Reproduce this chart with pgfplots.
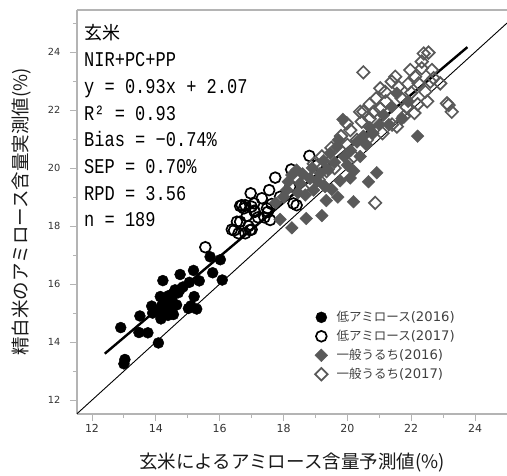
\documentclass[border=0pt]{standalone}
\usepackage{fontspec}
\setmainfont{DejaVu Sans}
\newfontfamily\jp{Noto Sans CJK JP}
\newfontfamily\statfont[FakeStretch=0.81]{Liberation Mono}
\usepackage{pgfplots}
\pgfplotsset{compat=1.18}
\definecolor{dgray}{HTML}{595959}
\definecolor{axgray}{HTML}{B4B4B4}
\newcommand{\yr}[1]{{\rmfamily\fontsize{13.2}{15}\selectfont(#1)}}

\begin{document}
\begin{tikzpicture}
\begin{axis}[
  at={(0,0)}, anchor=south west,
  scale only axis,
  width=430pt, height=404pt,
  xmin=11.53, xmax=25.0,
  ymin=11.52, ymax=25.45,
  axis x line*=box, axis y line*=left,
  xtick pos=bottom, ytick pos=left,
  xtick={12,14,...,24}, ytick={12,14,...,24},
  minor xtick={13,15,...,23}, minor ytick={13,15,...,25},
  tick align=outside,
  major tick length=7pt, minor tick length=4pt,
  axis line style={axgray, line width=1.2pt},
  every tick/.style={axgray, line width=1pt},
  /pgf/number format/assume math mode=true,
  xticklabel style={font=\fontsize{11}{12}\selectfont, text=black!80},
  yticklabel style={font=\fontsize{9.8}{11}\selectfont, text=black!80, xshift=-6pt},
  xlabel={玄米によるアミロース含量予測値(\%)},
  ylabel={精白米のアミロース含量実測値(\%)},
  label style={font=\jp\fontsize{18.5}{20}\selectfont, text=black!90},
  xlabel style={at={(axis description cs:0.5,-0.119)}, anchor=center},
  ylabel style={at={(axis description cs:-0.128,0.5)}, anchor=center},
  legend style={draw=none, fill=none, at={(rel axis cs:0.553,0.257)}, anchor=north west,
    font=\jp\fontsize{12.5}{15}\selectfont, text=black!75, row sep=5pt,
    inner sep=0pt, nodes={inner sep=1pt},
    /tikz/every odd column/.append style={column sep=8pt}},
  legend cell align=left,
  clip=true,
]
% 1:1 line
\addplot[black, line width=0.9pt, forget plot] coordinates {(11.53,11.53) (25,25)};
% low amylose 2016
\addplot[only marks, mark=*, mark size=5.5pt, mark options={fill=black, draw=black}] coordinates {
(12.90,14.50) (13.00,13.25) (13.03,13.40) (13.50,14.90) (13.47,14.33) (13.75,14.32)
(13.87,15.24) (14.08,13.97) (14.22,16.12) (14.14,15.57) (14.16,14.80) (14.28,15.16)
(14.38,14.92) (14.45,15.33) (14.55,15.68) (14.65,15.28) (14.76,15.82) (14.76,16.33)
(15.02,15.16) (15.05,16.06) (15.18,16.47) (15.20,15.57) (15.28,15.14) (15.36,16.11)
(15.70,16.94) (15.78,16.39) (16.02,16.84) (16.08,16.14) (14.30,15.40) (14.35,15.05)
(14.50,15.50) (14.60,15.80) (14.20,15.30) (14.40,15.60) (14.70,15.70) (13.90,15.00)
(14.10,15.10) (14.55,14.95) (15.10,15.25) (14.85,15.90) (14.25,15.45) (14.45,15.20)
};
\addlegendentry{低アミロース\yr{2016}}
% low amylose 2017
\addplot[only marks, mark=o, mark size=5.4pt, mark options={draw=black, fill=white, line width=1.7pt}] coordinates {
(15.55,17.27) (16.38,17.88) (16.45,17.85) (16.54,18.15) (16.59,17.75) (16.64,18.69)
(16.69,18.72) (16.76,18.61) (16.80,18.72) (16.80,17.75) (16.95,17.86) (16.97,19.13)
(17.00,18.67) (17.08,18.78) (17.08,18.53) (17.10,18.49) (17.32,18.96) (17.48,18.61)
(17.51,18.49) (17.55,19.24) (17.58,18.21) (17.63,18.76) (17.74,19.67) (17.89,19.01)
(18.21,19.36) (18.24,19.95) (18.31,18.78) (18.41,18.72) (18.81,20.42) (19.06,20.10)
(16.64,18.15) (17.00,17.88) (17.20,18.30) (16.85,18.35) (17.40,18.30) (16.90,18.00)
};
\addlegendentry{低アミロース\yr{2017}}
% general 2016
\addplot[only marks, mark=square*, mark size=4.5pt, mark options={rotate=45, fill=dgray, draw=dgray}] coordinates {
(17.89,18.23) (18.26,17.94) (18.71,18.26) (19.20,18.36) (19.34,18.88) (20.19,18.84)
(20.09,19.66) (20.66,19.53) (20.92,19.84) (19.51,19.26) (19.77,19.56) (22.20,21.10)
(18.10,19.24) (18.15,19.53) (18.26,19.76) (18.41,19.93) (18.52,19.47) (18.68,19.07)
(18.83,19.64) (18.94,19.24) (19.15,19.82) (19.30,19.36) (19.46,20.51) (19.67,20.73)
(19.72,20.97) (19.86,21.68) (18.60,19.80) (18.90,20.00) (19.05,19.55) (19.40,19.95)
(19.60,20.20) (19.90,20.40) (20.10,20.60) (20.30,20.90) (20.00,20.10) (20.40,20.40)
(20.60,20.80) (20.80,21.20) (21.00,21.50) (21.13,21.83) (21.39,22.11) (21.55,22.58)
(21.71,21.71) (21.30,21.50) (20.70,21.40) (20.50,21.10) (19.25,20.25) (18.45,19.15)
(17.75,18.80) (18.00,19.00) (21.90,22.30) (20.20,19.90) (19.70,19.00)
};
\addlegendentry{一般うるち\yr{2016}}
% general 2017
\addplot[only marks, mark=square, mark size=4.4pt, mark options={rotate=45, draw=dgray, fill=white, line width=1.7pt}] coordinates {
(20.50,23.30) (22.39,23.95) (22.54,23.98) (22.33,23.67) (22.65,23.38) (21.97,23.38)
(22.33,23.44) (22.12,23.15) (21.50,23.15) (21.39,22.98) (21.03,22.75) (21.18,22.63)
(22.23,22.92) (22.60,22.98) (22.44,22.63) (22.91,22.92) (23.12,22.23) (23.27,21.94)
(23.17,22.17) (20.50,21.94) (20.82,21.94) (21.03,22.05) (20.45,21.60) (20.09,21.31)
(19.98,21.54) (21.77,21.78) (21.55,21.43) (20.61,20.97) (20.87,18.80) (20.30,20.97)
(20.40,21.94) (21.70,22.40) (21.85,22.10) (22.00,22.60) (22.20,22.20) (21.60,22.80)
(21.20,22.30) (20.90,22.40) (20.70,22.20) (19.80,21.10) (19.50,20.70) (19.20,20.40)
(18.95,20.15) (19.35,19.90) (19.60,20.00) (20.20,20.40) (21.40,21.50) (22.10,21.90)
(22.50,22.30) (21.90,22.90) (19.10,19.60) (18.60,19.30) (20.00,20.80) (20.70,21.70)
(21.10,21.20) (22.70,23.10)
};
\addlegendentry{一般うるち\yr{2017}}
% regression line
\addplot[black, line width=2.4pt, forget plot] coordinates {(12.40,13.60) (23.76,24.17)};
\end{axis}
\node[anchor=base west, inner sep=0pt] at (7pt,374.5pt) {\jp\fontsize{18}{20}\selectfont 玄米};
\begin{scope}[every node/.style={anchor=base west, inner sep=0pt, font=\statfont\fontsize{21}{24}\selectfont}]
\node at (7pt,347.3pt) {NIR+PC+PP};
\node at (7pt,320.7pt) {y = 0.93x + 2.07};
\node at (7pt,294.0pt) {R² = 0.93};
\node at (7pt,267.3pt) {Bias = −0.74\%};
\node at (7pt,240.7pt) {SEP = 0.70\%};
\node at (7pt,214.0pt) {RPD = 3.56};
\node at (7pt,187.3pt) {n = 189};
\end{scope}
\pgfresetboundingbox
\path[use as bounding box] (-77pt,-61pt) rectangle (430pt,414pt);
\end{tikzpicture}
\end{document}
